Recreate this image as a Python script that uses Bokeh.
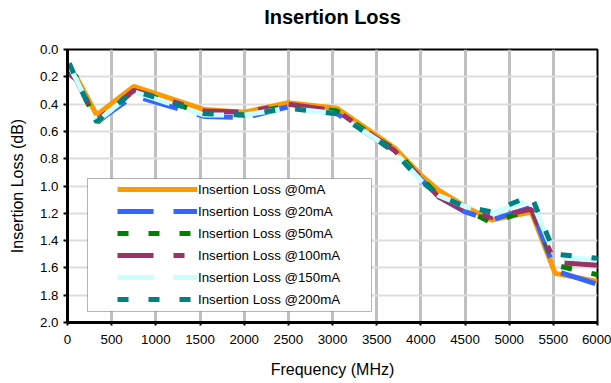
from bokeh.plotting import figure
from bokeh.models import (Range1d, SingleIntervalTicker, PrintfTickFormatter, FixedTicker,
                          BoxAnnotation, Legend, LegendItem, LinearAxis)
from bokeh.embed import file_html
from bokeh.resources import INLINE

# ---- data ----
freq_mhz = [20, 100, 330, 750, 1550, 2000, 2500, 3050, 3500, 3700, 4000, 4200, 4500, 4800, 5250, 5520, 6000]
il_0mA   = [0.15, 0.20, 0.48, 0.27, 0.44, 0.46, 0.39, 0.43, 0.63, 0.72, 0.92, 1.03, 1.15, 1.25, 1.19, 1.64, 1.70]
il_20mA  = [0.17, 0.22, 0.53, 0.34, 0.49, 0.50, 0.42, 0.47, 0.66, 0.75, 0.95, 1.08, 1.19, 1.25, 1.155, 1.62, 1.72]
il_50mA  = [0.15, 0.20, 0.54, 0.30, 0.47, 0.48, 0.41, 0.45, 0.65, 0.73, 0.94, 1.07, 1.17, 1.27, 1.17, 1.58, 1.65]
il_100mA = [0.18, 0.22, 0.52, 0.30, 0.45, 0.46, 0.40, 0.45, 0.65, 0.74, 0.94, 1.08, 1.18, 1.23, 1.17, 1.56, 1.58]
il_150mA = [0.12, 0.22, 0.53, 0.31, 0.48, 0.48, 0.43, 0.47, 0.66, 0.75, 0.96, 1.07, 1.15, 1.20, 1.10, 1.52, 1.54]
il_200mA = [0.10, 0.22, 0.53, 0.30, 0.47, 0.48, 0.43, 0.47, 0.66, 0.75, 0.96, 1.07, 1.15, 1.19, 1.07, 1.50, 1.53]

series_labels = ["Insertion Loss @0mA", "Insertion Loss @20mA", "Insertion Loss @50mA",
                 "Insertion Loss @100mA", "Insertion Loss @150mA", "Insertion Loss @200mA"]
series_values = [il_0mA, il_20mA, il_50mA, il_100mA, il_150mA, il_200mA]
series_colors = ["#FF9900", "#3366FF", "#008000", "#993366", "#CCFFFF", "#008080"]
series_dashes = ["solid", "36 20", "11 20", "36 20 11 20", "36 20", "11 20"]

chart_title = "Insertion Loss"
x_ticks_step = 500
y_ticks_step = 0.2

FONT = "Liberation Sans"

p = figure(width=611, height=383, output_backend="svg", toolbar_location=None,
           x_range=Range1d(0, 6000), y_range=Range1d(2.0, 0.0),
           min_border_left=67, min_border_right=14, min_border_top=49, min_border_bottom=61)

# bottom (frequency) axis, configured before the title axis is added
x_axis = p.below[0]
y_axis = p.left[0]

# chart title: an empty top axis carrying the title as its label
title_axis = LinearAxis(ticker=FixedTicker(ticks=[]), axis_label=chart_title,
                        axis_line_color=None, major_tick_line_color=None,
                        minor_tick_line_color=None, major_label_text_font_size="0px",
                        axis_label_text_font=FONT, axis_label_text_font_size="20px",
                        axis_label_text_font_style="bold", axis_label_text_color="black",
                        axis_label_standoff=22)
p.add_layout(title_axis, "above")

p.background_fill_color = "white"
p.border_fill_color = "white"
p.outline_line_color = "black"
p.outline_line_width = 2

# axes
x_axis.ticker = SingleIntervalTicker(interval=x_ticks_step)
y_axis.ticker = SingleIntervalTicker(interval=y_ticks_step)
y_axis.formatter = PrintfTickFormatter(format="%.1f")
for ax in (x_axis, y_axis):
    ax.axis_line_color = "black"
    ax.axis_line_width = 3
    ax.major_tick_line_color = "black"
    ax.major_tick_line_width = 2
    ax.major_tick_in = 0
    ax.minor_tick_line_color = None
    ax.major_label_text_font = FONT
    ax.major_label_text_font_size = "13.3px"
    ax.major_label_text_color = "black"
    ax.axis_label_text_font = FONT
    ax.axis_label_text_font_size = "16px"
    ax.axis_label_text_font_style = "normal"
    ax.axis_label_text_color = "black"
x_axis.major_tick_out = 3
y_axis.major_tick_out = 4
x_axis.major_label_standoff = 8
y_axis.major_label_standoff = 5
x_axis.axis_label = "Frequency (MHz)"
y_axis.axis_label = "Insertion Loss (dB)"
x_axis.axis_label_standoff = 14
y_axis.axis_label_standoff = 11

p.xgrid.grid_line_color = "#C0C0C0"
p.xgrid.grid_line_width = 3
p.xgrid.ticker = x_axis.ticker
p.ygrid.grid_line_color = "#DDDDDD"
p.ygrid.grid_line_width = 2

# legend frame (white box with thin black border)
p.add_layout(BoxAnnotation(left=226, right=3442, top=0.945, bottom=1.919,
                           fill_color="white", fill_alpha=1.0,
                           line_color="black", line_width=1))

items = []
for lab, vals, col, dash in zip(series_labels, series_values, series_colors, series_dashes):
    r = p.line(freq_mhz, vals, line_color=col, line_width=5, line_dash=dash)
    items.append(LegendItem(label=lab, renderers=[r]))

legend = Legend(items=items, location=(50, 12), padding=0, spacing=0,
                glyph_width=80, glyph_height=22, label_height=22, label_standoff=1,
                label_text_font=FONT, label_text_font_size="13.3px",
                label_text_color="black",
                background_fill_alpha=0, border_line_color=None)
p.add_layout(legend, "center")

open("out.html", "w").write(file_html(p, INLINE))
